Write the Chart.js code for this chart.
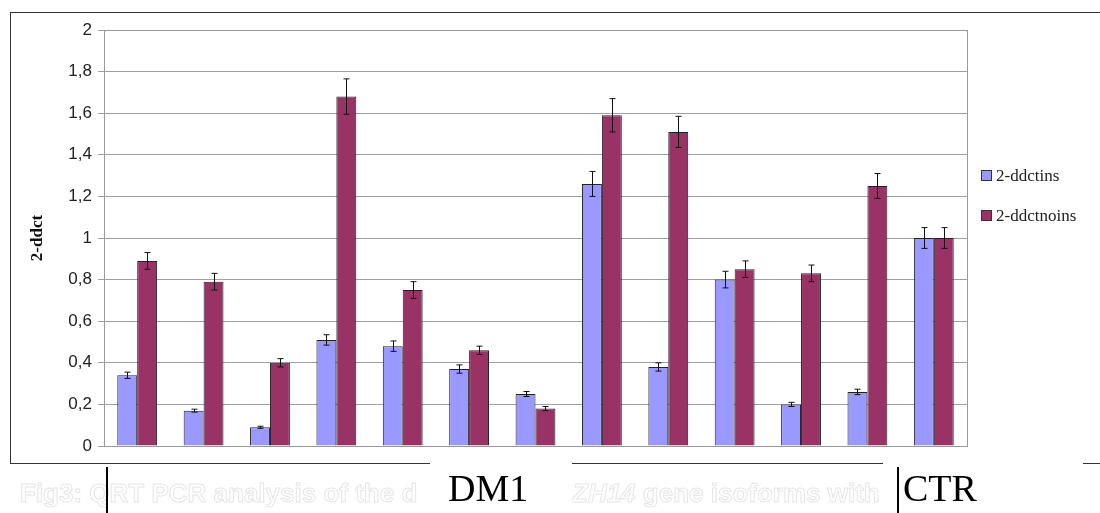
<!DOCTYPE html>
<html>
<head>
<meta charset="utf-8">
<script src="https://cdn.jsdelivr.net/npm/chart.js@4.4.1/dist/chart.umd.min.js"></script>
<style>
  body { margin: 0; background: #fff; width: 1100px; height: 513px; overflow: hidden; position: relative; }
  #frame { position: absolute; left: 10px; top: 12px; width: 1100px; height: 450px; border: 1px solid #333; border-right: none; }
  #chartCanvas { position: absolute; left: 0; top: 0; }
  .legend { position: absolute; left: 981px; font: 17px "Liberation Serif", serif; color: #222; }
  .legend span { display: inline-block; width: 9px; height: 9px; border: 1px solid #333; margin-right: 4px; vertical-align: 0px; }
  .faded { position: absolute; top: 478px; font: bold 26px "Liberation Sans", Arial, sans-serif; color: #fff;
           -webkit-text-stroke: 1px #e6e6e6; white-space: nowrap; }
  .box { position: absolute; background: #fff; top: 458px; height: 55px; }
  .big { position: absolute; top: 466px; font: 38px "Liberation Serif", serif; color: #000; }
  .vline { position: absolute; width: 2px; background: #000; top: 467px; height: 46px; }
</style>
</head>
<body>
<div id="frame"></div>
<canvas id="chartCanvas" width="1100" height="513"></canvas>

<div class="faded" style="left:20px">Fig3: QRT PCR analysis of the d</div>
<div class="faded" style="left:572px"><i>ZH14</i> gene isoforms with</div>
<div class="box" style="left:430px; width:142px"></div>
<div class="box" style="left:883px; width:200px"></div>
<div class="big" style="left:448px">DM1</div>
<div class="big" style="left:903px">CTR</div>
<div class="vline" style="left:106px"></div>
<div class="vline" style="left:897px"></div>

<div id="legendBox"></div>

<script>
// Sample groups (no labels shown under the bars)
var sampleNames = ["1", "2", "3", "4", "5", "6", "7", "8", "9", "10", "11", "12", "13"];
var seriesNames = ["2-ddctins", "2-ddctnoins"];
var seriesColors = ["#9999ff", "#993366"];

// Values
var insValues   = [0.34, 0.17, 0.09, 0.51, 0.48, 0.37, 0.25, 1.26, 0.38, 0.80, 0.20, 0.26, 1.00];
var noinsValues = [0.89, 0.79, 0.40, 1.68, 0.75, 0.46, 0.18, 1.59, 1.51, 0.85, 0.83, 1.25, 1.00];
// Error bar half-lengths
var insErrors   = [0.015, 0.007, 0.005, 0.025, 0.025, 0.02, 0.012, 0.06, 0.02, 0.04, 0.01, 0.013, 0.05];
var noinsErrors = [0.04, 0.04, 0.02, 0.085, 0.04, 0.02, 0.01, 0.08, 0.075, 0.04, 0.04, 0.06, 0.05];

var legendTops = [166, 206];
var legendBox = document.getElementById("legendBox");
seriesNames.forEach(function (name, i) {
  var item = document.createElement("div");
  item.className = "legend";
  item.style.top = legendTops[i] + "px";
  item.innerHTML = '<span style="background:' + seriesColors[i] + '"></span>' + name;
  legendBox.appendChild(item);
});

// Draw the plot border and error bars
var plotExtras = {
  id: "plotExtras",
  afterDatasetsDraw: function (chart) {
    var ctx = chart.ctx;
    var yScale = chart.scales.y;
    var errorSets = [insErrors, noinsErrors];
    ctx.save();
    ctx.strokeStyle = "#111";
    ctx.lineWidth = 1;
    chart.data.datasets.forEach(function (ds, d) {
      var meta = chart.getDatasetMeta(d);
      meta.data.forEach(function (bar, i) {
        var v = ds.data[i];
        var e = errorSets[d][i];
        var x = Math.round(bar.x) + 0.5;
        var yTop = yScale.getPixelForValue(v + e);
        var yBot = yScale.getPixelForValue(v - e);
        ctx.beginPath();
        ctx.moveTo(x, yTop); ctx.lineTo(x, yBot);
        ctx.moveTo(x - 3, yTop); ctx.lineTo(x + 3, yTop);
        ctx.moveTo(x - 3, yBot); ctx.lineTo(x + 3, yBot);
        ctx.stroke();
      });
    });
    var a = chart.chartArea;
    ctx.strokeStyle = "#9a9a9a";
    ctx.strokeRect(a.left + 0.5, a.top + 0.5, a.right - a.left, a.bottom - a.top);
    ctx.restore();
  }
};

var chartCtx = document.getElementById("chartCanvas").getContext("2d");
var ddctChart = new Chart(chartCtx, {
  type: "bar",
  data: {
    labels: sampleNames,
    datasets: [
      {
        label: seriesNames[0],
        data: insValues,
        backgroundColor: seriesColors[0],
        borderColor: "#222",
        borderWidth: 1,
      },
      {
        label: seriesNames[1],
        data: noinsValues,
        backgroundColor: seriesColors[1],
        borderColor: "#222",
        borderWidth: 1,
      },
    ],
  },
  options: {
    responsive: false,
    animation: false,
    events: [],
    layout: { padding: { left: 0, top: 30, right: 133, bottom: 67 } },
    datasets: { bar: { categoryPercentage: 0.6, barPercentage: 1.0 } },
    plugins: {
      legend: { display: false },
      tooltip: { enabled: false },
    },
    scales: {
      x: { display: false },
      y: {
        min: 0,
        max: 2,
        afterFit: function (scale) { scale.width = 104; },
        ticks: {
          stepSize: 0.2,
          padding: 6,
          color: "#222",
          font: { family: "'Liberation Sans', Arial, sans-serif", size: 17 },
          callback: function (value) {
            return String(Math.round(value * 10) / 10).replace(".", ",");
          },
        },
        grid: { color: "#a0a0a0", tickLength: 6 },
        border: { color: "#888" },
        title: {
          display: true,
          text: "2-ddct",
          color: "#111",
          padding: { top: 27, bottom: 0 },
          font: { family: "'Liberation Serif', serif", size: 17, weight: "bold" },
        },
      },
    },
  },
  plugins: [plotExtras],
});
</script>
</body>
</html>
